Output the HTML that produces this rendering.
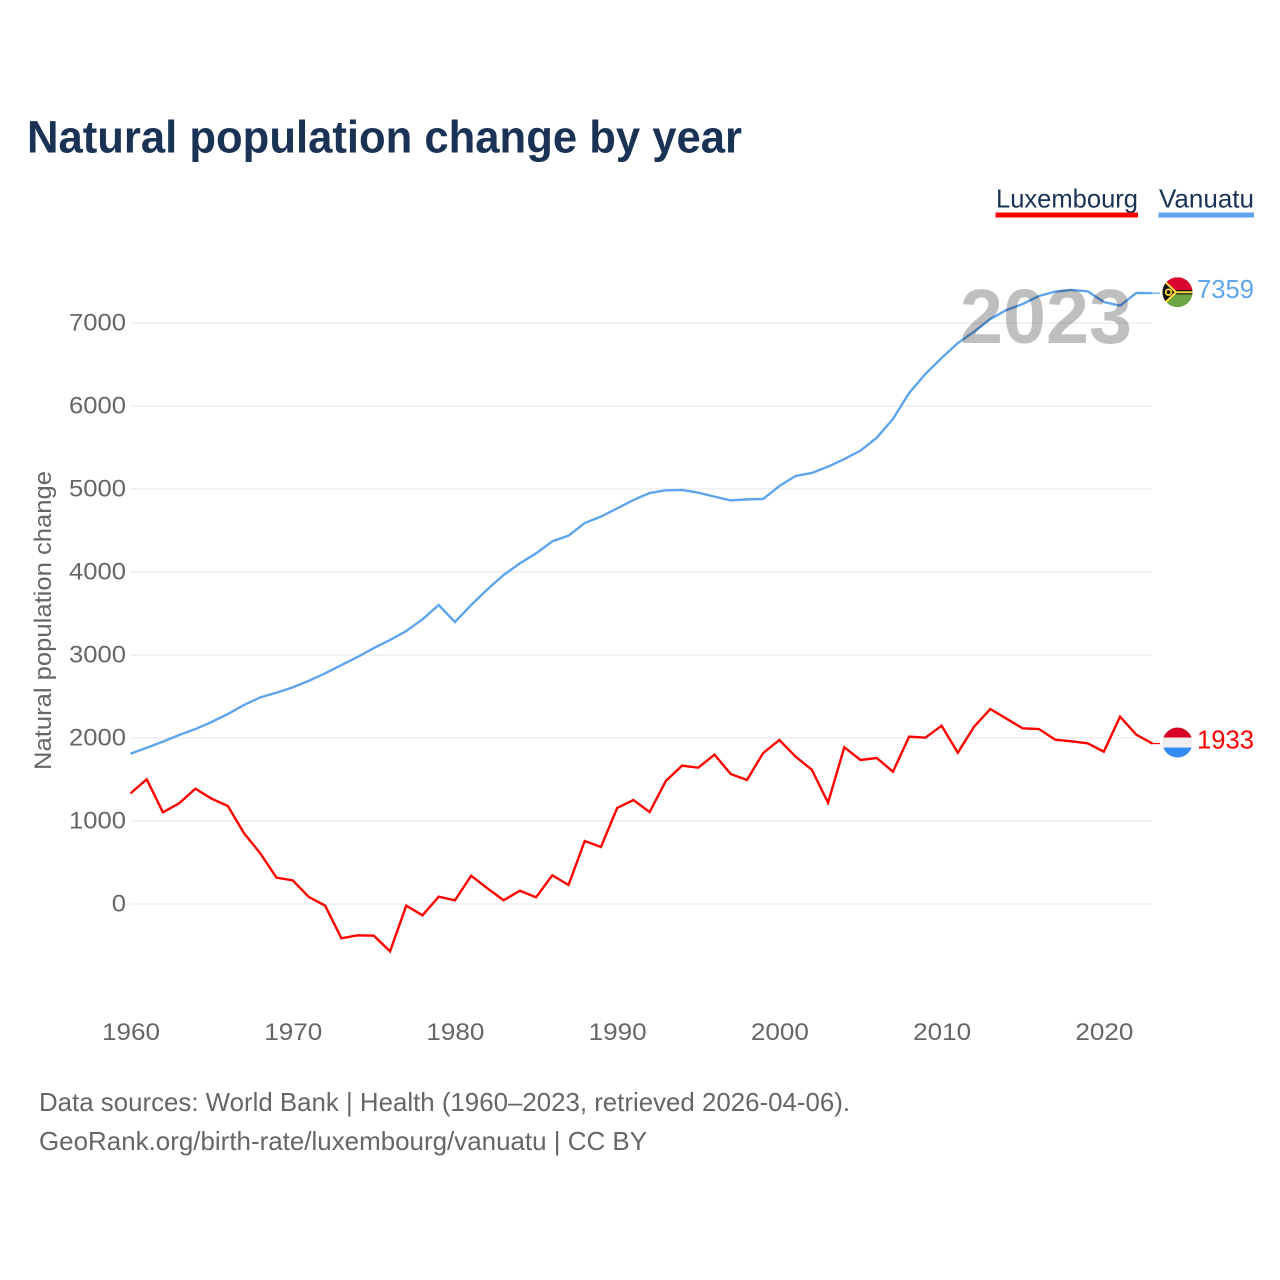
<!DOCTYPE html>
<html lang="en">
<head>
<meta charset="utf-8">
<title>Natural population change by year</title>
<style>
  html, body { margin: 0; padding: 0; background: #fff; }
  svg { display: block; font-family: "Liberation Sans", sans-serif; }
</style>
</head>
<body>
<svg id="chart" xmlns="http://www.w3.org/2000/svg" width="1280" height="1280" viewBox="0 0 1280 1280">
  <rect x="0" y="0" width="1280" height="1280" fill="#ffffff"/>
  <text x="27" y="152.5" font-size="45" font-weight="bold" fill="#1a3354" textLength="715" lengthAdjust="spacingAndGlyphs">Natural population change by year</text>

  <g>
    <text x="996" y="207.5" font-size="26" fill="#1a3354" textLength="142" lengthAdjust="spacingAndGlyphs">Luxembourg</text>
    <rect x="995.5" y="212.5" width="142.5" height="5" fill="#ff0000"/>
  </g>
  <g>
    <text x="1159" y="207.5" font-size="26" fill="#1a3354" textLength="95" lengthAdjust="spacingAndGlyphs">Vanuatu</text>
    <rect x="1158.5" y="212.5" width="95.5" height="5" fill="#5fa5ed"/>
  </g>

  <text transform="translate(51 770) rotate(-90)" font-size="24" fill="#666666" textLength="299" lengthAdjust="spacingAndGlyphs">Natural population change</text>

  <g id="grid"></g>
  <g id="y-axis"></g>
  <g id="x-axis"></g>
  <g id="series"></g>

  <defs>
    <clipPath id="flag-clip"><circle cx="0" cy="0" r="15"/></clipPath>
  </defs>

  <g id="flag-vanuatu">
    <g clip-path="url(#flag-clip)">
      <rect x="-15" y="-15" width="30" height="15" fill="#d9042f"/>
      <rect x="-15" y="0" width="30" height="15" fill="#6da544"/>
      <rect x="-15" y="-2.2" width="30" height="4.4" fill="#111111"/>
      <path d="M-15 -14.5 L-1 -1 L15 -1 L15 1 L-1 1 L-15 14.5 Z" fill="#ffda44"/>
      <path d="M-15 -11.5 L-3 0 L-15 11.5 Z" fill="#111111"/>
      <circle cx="-9" cy="0" r="2.8" fill="none" stroke="#ffda44" stroke-width="1.8"/>
    </g>
  </g>
  <g id="flag-luxembourg">
    <g clip-path="url(#flag-clip)">
      <rect x="-15" y="-15" width="30" height="10" fill="#d80027"/>
      <rect x="-15" y="-5" width="30" height="10" fill="#eeeeee"/>
      <rect x="-15" y="5" width="30" height="10" fill="#338af3"/>
    </g>
  </g>
  <text id="value-vanuatu" x="1197" font-size="26" fill="#5fa5ed" textLength="57" lengthAdjust="spacingAndGlyphs"></text>
  <text id="value-luxembourg" x="1197" font-size="26" fill="#ff0000" textLength="57" lengthAdjust="spacingAndGlyphs"></text>

  <text x="960" y="343" font-size="77" font-weight="bold" fill="#000000" fill-opacity="0.25" textLength="172" lengthAdjust="spacingAndGlyphs">2023</text>

  <text x="39" y="1111" font-size="26" fill="#666666" textLength="811" lengthAdjust="spacingAndGlyphs">Data sources: World Bank | Health (1960–2023, retrieved 2026-04-06).</text>
  <text x="39" y="1150" font-size="26" fill="#666666" textLength="608" lengthAdjust="spacingAndGlyphs">GeoRank.org/birth-rate/luxembourg/vanuatu | CC BY</text>
</svg>
<script>
const years = [1960,1961,1962,1963,1964,1965,1966,1967,1968,1969,1970,1971,1972,1973,1974,1975,1976,1977,1978,1979,1980,1981,1982,1983,1984,1985,1986,1987,1988,1989,1990,1991,1992,1993,1994,1995,1996,1997,1998,1999,2000,2001,2002,2003,2004,2005,2006,2007,2008,2009,2010,2011,2012,2013,2014,2015,2016,2017,2018,2019,2020,2021,2022,2023];
const luxembourg = [1333,1502,1105,1213,1389,1269,1181,852,611,317,285,84,-20,-413,-377,-382,-570,-20,-136,88,45,341,189,45,160,81,346,229,759,687,1157,1253,1108,1482,1667,1643,1799,1566,1494,1819,1976,1775,1618,1220,1888,1735,1759,1594,2016,2004,2148,1823,2136,2349,2233,2116,2108,1980,1960,1936,1835,2257,2040,1933];
const vanuatu = [1811,1883,1956,2036,2108,2193,2289,2398,2490,2546,2610,2690,2779,2879,2976,3084,3181,3289,3430,3602,3398,3602,3791,3964,4104,4225,4369,4438,4590,4667,4767,4867,4952,4984,4988,4955,4908,4863,4875,4880,5036,5157,5193,5269,5361,5462,5618,5843,6157,6386,6578,6759,6895,7048,7157,7229,7325,7378,7398,7382,7253,7209,7362,7359];
const yTicks = [0,1000,2000,3000,4000,5000,6000,7000];
const xTicks = [1960,1970,1980,1990,2000,2010,2020];

const SVG_NS = 'http://www.w3.org/2000/svg';
function xScale(year) { return 130.5 + (year - 1960) * (1152.5 - 130.5) / 63; }
function yScale(value) { return 904 - value * 0.083; }
function make(tag, attrs, parent) {
  const el = document.createElementNS(SVG_NS, tag);
  for (const k in attrs) el.setAttribute(k, attrs[k]);
  parent.appendChild(el);
  return el;
}

const grid = document.getElementById('grid');
const yAxis = document.getElementById('y-axis');
const xAxis = document.getElementById('x-axis');
const series = document.getElementById('series');

yTicks.forEach(function (t) {
  const line = make('line', { x1: 130, x2: 1152, y1: yScale(t), y2: yScale(t), stroke: '#eeeeee', 'stroke-width': 1.6 }, grid);
  
  
  const w = String(t).length * 14.25;
  const label = make('text', { x: 126 - w, y: yScale(t) + 7.5, 'font-size': 24, fill: '#666666', textLength: w, lengthAdjust: 'spacingAndGlyphs' }, yAxis);
  
  
  label.textContent = t;
});

xTicks.forEach(function (t) {
  const label = make('text', { x: xScale(t) - 28.5, y: 1040, 'font-size': 24, fill: '#666666', textLength: 58, lengthAdjust: 'spacingAndGlyphs' }, xAxis);
  
  
  label.textContent = t;
});

function drawSeries(values, color) {
  const pts = values.map(function (v, i) { return xScale(years[i]).toFixed(2) + ',' + yScale(v).toFixed(2); }).join(' ');
  return make('polyline', { points: pts, fill: 'none', stroke: color, 'stroke-width': 2.4, 'stroke-linejoin': 'miter' }, series);
}
function drawConnector(values, color) {
  const last = values[values.length - 1];
  const lastYear = years[years.length - 1];
  return make('line', { x1: xScale(lastYear), x2: 1160, y1: yScale(last), y2: yScale(last), stroke: color, 'stroke-width': 1.2 }, series);
}

const lineLux = drawSeries(luxembourg, '#ff0000');


const lineVan = drawSeries(vanuatu, '#5fa5ed');


const connLux = drawConnector(luxembourg, '#ff0000');


const connVan = drawConnector(vanuatu, '#5fa5ed');



const lastLux = luxembourg[luxembourg.length - 1];
const lastVan = vanuatu[vanuatu.length - 1];
document.getElementById('flag-vanuatu').setAttribute('transform', 'translate(1177.5 ' + (yScale(lastVan) - 1) + ')');
document.getElementById('flag-luxembourg').setAttribute('transform', 'translate(1177.5 ' + (yScale(lastLux) - 1) + ')');
const valVan = document.getElementById('value-vanuatu');
valVan.setAttribute('y', yScale(lastVan) + 5);
valVan.textContent = lastVan;
const valLux = document.getElementById('value-luxembourg');
valLux.setAttribute('y', yScale(lastLux) + 5);
valLux.textContent = lastLux;
</script>
</body>
</html>
